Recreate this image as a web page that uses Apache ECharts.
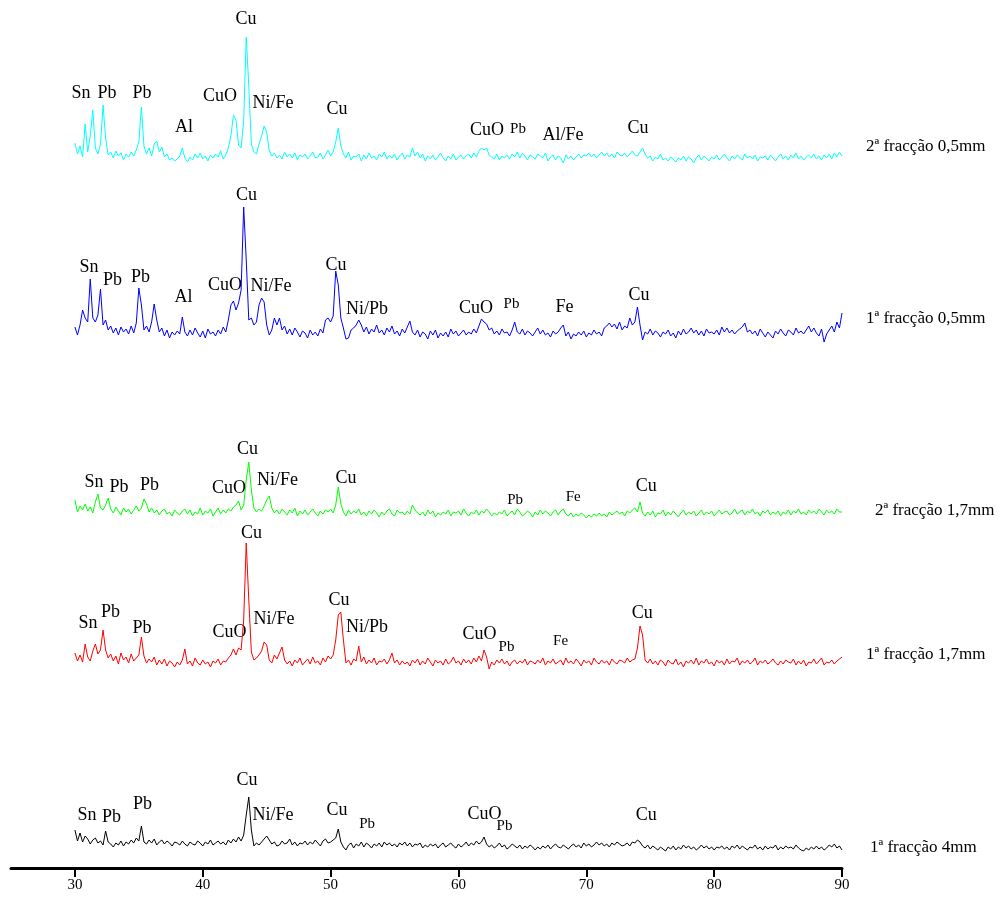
<!DOCTYPE html>
<html><head><meta charset="utf-8">
<script src="https://cdn.jsdelivr.net/npm/echarts@6/dist/echarts.min.js"></script>
<style>html,body{margin:0;padding:0;background:#fff}#c{width:1008px;height:898px}</style>
</head><body><div id="c"></div>
<script>
// 2-theta sampling grid (degrees), 30.0 .. 90.0 in 0.2 steps
const twoTheta = Array.from({length: 301}, (_, i) => +(30 + 0.2 * i).toFixed(1));
const xTicks = [30, 40, 50, 60, 70, 80, 90];

// Intensities (arbitrary units), one row per degree (x.0, x.2, x.4, x.6, x.8)
const frac2_05 = [
23,12,20,9,42, 14,30,56,18,12, 22,61,28,11,14, 8,15,10,13,6, 12,9,14,10,16,
24,59,20,12,18, 10,22,25,14,19, 9,12,6,8,5, 7,10,18,8,4, 9,6,12,8,13,
7,10,5,11,8, 12,9,15,7,11, 18,30,51,46,21, 18,45,129,80,22, 14,12,22,30,40,
34,15,10,13,8, 11,7,14,9,12, 8,13,6,11,9, 12,7,10,14,8, 9,13,7,11,16,
10,14,24,38,20, 12,8,14,6,10, 9,12,5,11,7, 13,8,10,6,12, 9,14,7,11,8,
12,6,10,13,7, 11,9,18,10,14, 8,12,5,10,7, 11,6,9,13,8, 5,10,7,12,6,
9,11,7,10,12, 8,13,9,15,18, 16,18,11,9,7, 12,6,10,8,11, 7,12,9,14,8,
13,10,6,11,9, 7,12,10,8,13, 5,9,11,6,10, 8,3,11,7,10, 6,9,12,8,11,
10,13,9,12,8, 11,14,10,13,9, 12,8,14,11,10, 13,9,12,15,11, 10,14,18,12,8,
10,5,9,7,12, 6,8,5,9,7, 4,8,6,10,5, 9,7,3,8,11, 6,10,8,5,9,
7,11,6,9,12, 8,5,10,7,11, 9,6,12,8,10, 7,11,5,9,8, 10,6,11,8,5,
9,12,7,10,6, 11,8,13,7,10, 6,9,11,8,12, 7,10,6,11,8, 12,7,13,9,14,
10];
const frac1_05 = [
17,9,19,34,26, 22,65,26,22,29, 55,19,24,14,18, 11,16,9,17,12, 15,10,18,11,21,
56,39,14,18,12, 22,40,24,12,16, 8,14,6,12,9, 13,10,27,12,8, 14,9,16,11,7,
13,6,15,10,12, 8,14,10,17,12, 24,39,43,34,41, 54,137,84,24,26, 19,22,39,46,42,
19,9,14,26,19, 26,14,18,10,15, 9,16,12,7,13, 11,6,14,9,12, 8,15,11,24,26,
22,28,73,59,26, 16,5,6,14,16, 19,24,19,12,17, 10,15,12,19,11, 14,9,16,12,18,
10,13,8,15,11, 17,23,12,9,14, 7,12,10,5,13, 9,14,6,11,8, 12,7,15,10,13,
8,11,14,9,12, 10,15,11,18,25, 22,20,14,16,10, 13,9,15,11,12, 8,14,22,12,10,
15,9,13,11,8, 12,16,10,14,9, 11,7,13,10,12, 16,19,8,12,5, 10,8,12,9,13,
7,11,9,14,10, 12,8,16,18,21, 17,20,15,22,14, 18,16,26,19,22, 37,19,4,12,10,
15,9,13,11,7, 12,10,14,8,11, 6,13,9,15,10, 12,16,11,14,9, 13,8,15,11,12,
10,14,9,17,12, 16,11,14,10,13, 15,17,21,12,14, 10,13,8,15,11, 7,12,9,6,13,
10,15,11,8,14, 12,9,16,11,13, 10,14,18,12,16, 11,8,15,2,10, 14,18,12,22,16,
31];
const frac2_17 = [
22,10,16,12,18, 11,15,9,20,28, 14,12,17,24,13, 9,15,11,7,14, 10,13,8,12,16,
11,14,23,18,10, 14,9,12,7,11, 13,8,10,6,12, 9,7,11,13,8, 12,6,10,8,14,
7,11,9,13,6, 10,14,8,12,9, 13,11,15,17,21, 12,17,42,60,32, 14,10,13,11,16,
22,26,14,9,12, 8,13,10,7,12, 9,14,6,11,8, 12,7,10,13,9, 6,11,8,12,10,
13,9,17,35,18, 10,6,12,8,11, 9,13,7,10,6, 11,8,12,9,5, 10,7,11,13,8,
6,12,9,10,7, 11,8,17,12,9, 7,10,6,12,8, 11,5,9,7,10, 8,12,6,10,9,
11,7,13,9,6, 10,8,12,7,11, 9,13,10,6,9, 7,10,8,12,6, 9,11,7,13,10,
6,8,11,9,5, 10,7,12,8,11, 9,6,10,12,7, 11,13,8,6,9, 5,8,6,9,7,
4,7,5,8,6, 9,6,8,5,10, 7,9,11,8,10, 6,11,9,12,14, 10,20,9,6,10,
7,11,5,9,8, 12,6,10,7,11, 8,5,9,12,7, 10,8,11,6,9, 12,7,10,8,11,
6,9,12,8,10, 11,7,9,13,8, 10,12,7,11,9, 13,8,10,6,11, 9,12,7,10,8,
11,6,10,8,12, 7,11,9,13,8, 10,7,12,9,11, 8,13,10,7,12, 9,11,8,13,10,
10];
const frac1_17 = [
20,12,18,11,29, 16,12,22,29,19, 23,43,23,15,19, 12,17,9,20,13, 16,10,19,12,15,
18,36,17,10,14, 11,16,8,13,9, 14,7,12,10,6, 11,8,13,24,9, 12,7,15,10,8,
13,9,11,6,12, 10,14,8,12,11, 15,18,24,18,25, 23,53,130,73,21, 13,15,18,22,31,
28,13,10,18,14, 20,26,13,9,12, 7,13,10,15,8, 11,14,9,16,10, 12,8,15,11,17,
14,18,33,58,61, 33,10,13,8,14, 12,27,11,16,9, 13,10,15,8,12, 11,14,9,13,20,
10,13,8,12,9, 11,7,13,10,14, 8,12,9,15,11, 7,13,10,12,8, 14,9,11,16,10,
12,8,14,10,13, 9,15,11,17,12, 23,16,4,11,8, 13,10,14,9,12, 7,11,13,9,12,
10,14,8,12,11, 9,13,10,15,8, 12,10,14,9,11, 13,8,15,10,12, 9,14,11,7,13,
10,12,8,15,11, 9,13,10,12,8, 14,11,9,13,12, 10,15,11,13,14, 25,47,38,13,10,
14,9,12,8,13, 11,7,13,10,9, 14,8,11,6,12, 10,13,9,15,8, 12,10,14,9,11,
7,13,10,12,8, 14,9,12,11,15, 8,12,10,13,9, 11,15,8,12,10, 13,9,11,14,10,
8,12,9,13,11, 10,14,8,12,9, 13,7,11,10,14, 9,12,15,8,11, 10,13,9,12,14,
16];
const frac1_4 = [
25,14,22,13,19, 16,11,15,17,12, 14,10,24,13,11, 8,12,10,14,9, 13,11,15,12,17,
14,29,13,11,15, 12,16,10,13,15, 11,14,12,9,13, 12,10,14,11,9, 13,11,10,14,12,
9,13,11,15,10, 12,14,11,13,10, 15,12,16,13,18, 14,20,40,58,25, 9,12,10,13,16,
19,15,11,13,9, 10,14,11,12,16, 10,13,9,12,11, 14,10,13,11,15, 12,9,14,16,12,
13,15,17,26,13, 8,5,10,12,7, 11,9,13,8,12, 10,7,11,9,12, 8,13,10,12,9,
11,8,12,10,13, 9,12,8,11,10, 12,7,10,8,11, 9,11,7,10,12, 8,10,12,9,7,
11,8,10,13,9, 12,10,14,11,13, 18,11,8,10,7, 9,12,8,10,6, 8,11,9,7,10,
6,9,7,10,8, 5,8,6,9,7, 10,6,9,11,8, 7,10,8,6,9, 11,8,10,7,12,
9,11,8,10,13, 10,12,9,11,8, 12,10,13,11,9, 10,12,9,13,12, 15,13,9,7,10,
6,9,7,5,8, 6,4,8,6,9, 5,8,6,10,7, 9,6,8,5,7, 10,7,9,6,8,
5,8,7,9,6, 8,5,9,7,10, 6,9,7,5,8, 7,10,6,8,5, 9,6,8,7,10,
5,8,6,9,7, 8,6,10,7,5, 4,7,5,8,6, 9,6,8,5,7, 10,8,11,7,9,
5];

const seriesNames = ['2ª fracção 0,5mm', '1ª fracção 0,5mm', '2ª fracção 1,7mm', '1ª fracção 1,7mm', '1ª fracção 4mm'];

// Peak annotations per pattern: [label, 2θ, height above pattern floor, small?]
const peaks2_05 = [['Sn',30.47,73],['Pb',32.5,73],['Pb',35.24,73],['Al',38.53,39],['CuO',41.35,70],['Cu',43.38,147],['Ni/Fe',45.49,63],['Cu',50.5,57],['CuO',62.24,36],['Pb',64.66,37,1],['Al/Fe',68.18,31],['Cu',74.05,38]];
const peaks1_05 = [['Sn',31.1,77],['Pb',32.93,64],['Pb',35.13,67],['Al',38.49,47],['CuO',41.74,59],['Cu',43.42,149],['Ni/Fe',45.34,58],['Cu',50.42,79],['Ni/Pb',52.85,35],['CuO',61.38,36],['Pb',64.15,40,1],['Fe',68.3,37],['Cu',74.13,49]];
const peaks2_17 = [['Sn',31.49,40],['Pb',33.44,35],['Pb',35.83,37],['CuO',42.05,34],['Cu',43.5,73],['Ni/Fe',45.85,42],['Cu',51.2,44],['Pb',64.43,22,1],['Fe',68.97,25,1],['Cu',74.68,36]];
const peaks1_17 = [['Sn',31.02,50],['Pb',32.78,61],['Pb',35.24,45],['CuO',42.09,41],['Cu',43.81,140],['Ni/Fe',45.57,54],['Cu',50.66,73],['Ni/Pb',52.85,46],['CuO',61.65,39],['Pb',63.76,26,1],['Fe',67.99,32,1],['Cu',74.37,60]];
const peaks1_4 = [['Sn',30.94,40],['Pb',32.86,38],['Pb',35.28,51],['Cu',43.46,75],['Ni/Fe',45.49,40],['Cu',50.5,45],['Pb',52.85,31,1],['CuO',62.04,41],['Pb',63.6,29,1],['Cu',74.68,40]];

// ---- layout / style ----
const patterns = [frac2_05, frac1_05, frac2_17, frac1_17, frac1_4];
const peakSets = [peaks2_05, peaks1_05, peaks2_17, peaks1_17, peaks1_4];
const offsets = [702, 524, 346, 195, 13];
const colors = ['#00FFFF', '#0000FF', '#00FF00', '#FF0000', '#000000'];
const nameY = [148, 320, 512, 656, 849];
const nameX = [866, 866, 875, 866, 870];
const FONT = 'Liberation Serif';

const series = patterns.map((p, k) => ({
  type: 'line', name: seriesNames[k], symbol: 'none', silent: true,
  lineStyle: {width: 1, color: colors[k]}, itemStyle: {color: colors[k]},
  data: p.map((v, i) => [twoTheta[i], v + offsets[k]])
}));
const labelData = [];
peakSets.forEach((set, k) => set.forEach(([t, x, h, small]) => {
  labelData.push({value: [x, h + offsets[k]], label: {formatter: t, fontSize: small ? 15 : 18}});
}));
series.push({
  type: 'scatter', symbolSize: 0, silent: true, data: labelData,
  itemStyle: {color: '#000', opacity: 1},
  label: {show: true, position: 'inside', color: '#000', opacity: 1, fontFamily: FONT, fontSize: 18, textBorderWidth: 0}
});

const chart = echarts.init(document.getElementById('c'), null, {renderer: 'canvas'});
chart.setOption({
  animation: false,
  backgroundColor: '#fff',
  grid: {left: 11, right: 166, top: 8, bottom: 30, containLabel: false},
  xAxis: {
    type: 'value', min: 25, max: 90,
    axisLine: {show: true, lineStyle: {color: '#000', width: 3}},
    axisTick: {show: true, customValues: xTicks, length: 9, lineStyle: {color: '#000', width: 2}},
    axisLabel: {customValues: xTicks, color: '#000', fontFamily: FONT, fontSize: 15, margin: 10},
    splitLine: {show: false}
  },
  yAxis: {type: 'value', min: 0, max: 860, show: false},
  graphic: seriesNames.map((n, k) => ({
    type: 'text', left: nameX[k], top: nameY[k] - 10,
    style: {text: n, fill: '#000', font: '17px "' + FONT + '"'}
  })),
  series
});
</script></body></html>
